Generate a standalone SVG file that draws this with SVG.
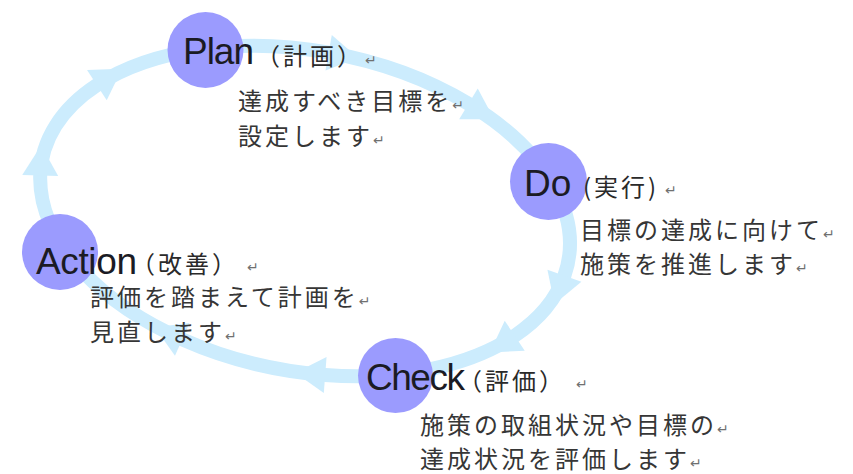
<svg xmlns="http://www.w3.org/2000/svg" width="853" height="474" viewBox="0 0 853 474">
<style>
.ring{fill:none;stroke:#CCECFD;stroke-width:14}
.node{fill:#9B9BFE}
.lbl{font-family:"Liberation Sans",Arial,sans-serif;font-size:37px;fill:#1b1b24}
.sub{font-family:"Noto Sans CJK JP",sans-serif;font-size:24px;letter-spacing:3px;fill:#2a2a2a}
.desc{font-family:"Noto Sans CJK JP",sans-serif;font-size:24px;letter-spacing:3px;fill:#363636}
.ret{font-family:"DejaVu Sans",sans-serif;font-size:14px;fill:#707070;letter-spacing:0}
</style>
<defs>
<marker id="ah" markerUnits="userSpaceOnUse" markerWidth="44" markerHeight="44" viewBox="0 -22 44 44" refX="0" refY="0" orient="auto" overflow="visible">
<path d="M0,-18 L30,0 L0,18 Z" fill="#CCECFD"/>
</marker>
</defs>
<rect width="853" height="474" fill="#ffffff"/>
<g id="connectors" transform="translate(305,211) rotate(11)">
<path class="ring" marker-mid="url(#ah)" d="M-205.3,102.8 A268,160 0 0 1 -266.7,15.6 A268,160 0 0 1 -228.3,-83.8 A268,160 0 0 1 -7.0,-159.9 A268,160 0 0 1 140.0,-136.4 A268,160 0 0 1 267.0,14.0 A268,160 0 0 1 229.7,82.4 A268,160 0 0 1 51.1,157.1 A268,160 0 0 1 -96.0,149.4 A268,160 0 0 1 -205.3,102.8"/>
</g>
<g id="plan">
<circle class="node" cx="205.5" cy="50" r="38"/>
<text class="lbl" x="183" y="64" textLength="71">Plan</text>
<text class="sub" x="256" y="65">（計画）</text>
<text class="ret" x="365" y="65">↵</text>
<text class="desc" x="238" y="110">達成すべき目標を<tspan class="ret">↵</tspan></text>
<text class="desc" x="238" y="145">設定します<tspan class="ret">↵</tspan></text>
</g>
<g id="do">
<circle class="node" cx="548.5" cy="181.5" r="38.5"/>
<text class="lbl" x="524" y="196">Do</text>
<text class="sub" x="583" y="196">(実行)</text>
<text class="ret" x="665" y="195">↵</text>
<text class="desc" x="580" y="239">目標の達成に向けて<tspan class="ret">↵</tspan></text>
<text class="desc" x="580" y="273">施策を推進します<tspan class="ret">↵</tspan></text>
</g>
<g id="action">
<circle class="node" cx="60" cy="252" r="38"/>
<text class="lbl" x="36" y="274" textLength="101">Action</text>
<text class="sub" x="131" y="273">（改善）</text>
<text class="ret" x="247" y="272">↵</text>
<text class="desc" x="90" y="306">評価を踏まえて計画を<tspan class="ret">↵</tspan></text>
<text class="desc" x="90" y="341">見直します<tspan class="ret">↵</tspan></text>
</g>
<g id="check">
<circle class="node" cx="395.5" cy="375.5" r="37.5"/>
<text class="lbl" x="366" y="390" textLength="99">Check</text>
<text class="sub" x="458" y="390">（評価）</text>
<text class="ret" x="576" y="389">↵</text>
<text class="desc" x="420" y="434">施策の取組状況や目標の<tspan class="ret">↵</tspan></text>
<text class="desc" x="420" y="468">達成状況を評価します<tspan class="ret">↵</tspan></text>
</g>
</svg>
